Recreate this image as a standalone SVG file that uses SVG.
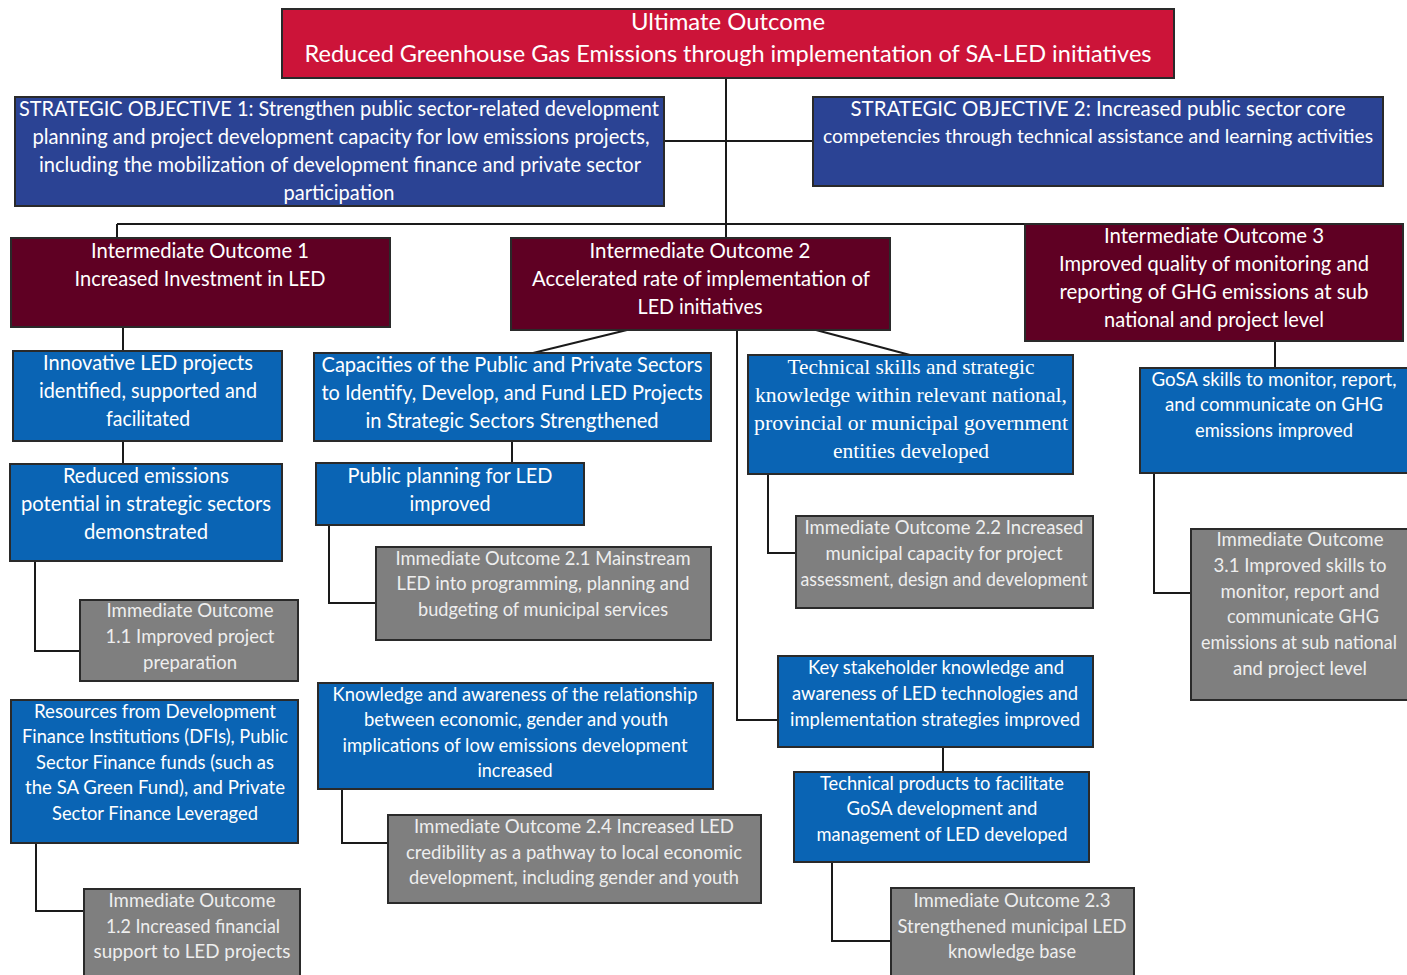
<svg xmlns="http://www.w3.org/2000/svg" width="1407" height="975" viewBox="0 0 1407 975">
<style>
rect{stroke:#2a2a2a;stroke-width:2}
rect.bg{fill:#ffffff;stroke:none}
.uo{fill:#CC1439}
.so{fill:#2B4394}
.io{fill:#5F0023}
.bl{fill:#0A64B4}
.gr{fill:#7F7F7F}
text{font-family:Lato,"Liberation Sans",sans-serif;fill:#ffffff;text-anchor:middle;dominant-baseline:central}
.f24{font-size:24px}
.f21{font-size:21px}
.f20{font-size:20px}
.f19{font-size:19px}
.g{fill:#EEEEEE}
.serif{font-family:"Liberation Serif",serif}
#connectors path{fill:none;stroke:#1a1a1a;stroke-width:2}
</style>
<rect class="bg" width="1407" height="975"/>
<g id="connectors">
<path d="M726,78 V238"/>
<path d="M664,141 H813"/>
<path d="M117,224 H1232"/>
<path d="M117,224 V238"/>
<path d="M123,327 V351"/>
<path d="M123,441 V464"/>
<path d="M35,561 V651 H80"/>
<path d="M627,330 L533,353"/>
<path d="M512,441 V463"/>
<path d="M329,525 V603 H376"/>
<path d="M816,330 L910,355"/>
<path d="M737,330 V720 H778"/>
<path d="M768,474 V553 H796"/>
<path d="M943,747 V772"/>
<path d="M832,862 V941 H891"/>
<path d="M1275,341 V368"/>
<path d="M1154,473 V593 H1191"/>
<path d="M36,843 V911 H84"/>
<path d="M342,789 V843 H388"/>
</g>
<g id="ultimate">
<rect class="uo" x="282" y="9" width="892" height="69"/>
<text class="f24" x="728" y="20" textLength="194" lengthAdjust="spacingAndGlyphs">Ultimate Outcome</text>
<text class="f24" x="728" y="52" textLength="847" lengthAdjust="spacingAndGlyphs">Reduced Greenhouse Gas Emissions through implementation of SA-LED initiatives</text>
</g>
<g id="so1">
<rect class="so" x="15" y="97" width="649" height="109"/>
<text class="f21" x="339" y="107" textLength="640" lengthAdjust="spacingAndGlyphs">STRATEGIC OBJECTIVE 1: Strengthen public sector-related development</text>
<text class="f21" x="341" y="135" textLength="617" lengthAdjust="spacingAndGlyphs">planning and project development capacity for low emissions projects,</text>
<text class="f21" x="340" y="163" textLength="602" lengthAdjust="spacingAndGlyphs">including the mobilization of development finance and private sector</text>
<text class="f21" x="339" y="191" textLength="111" lengthAdjust="spacingAndGlyphs">participation</text>
</g>
<g id="so2">
<rect class="so" x="813" y="97" width="570" height="89"/>
<text class="f21" x="1098" y="107" textLength="495" lengthAdjust="spacingAndGlyphs">STRATEGIC OBJECTIVE 2: Increased public sector core</text>
<text class="f20" x="1098" y="135" textLength="550" lengthAdjust="spacingAndGlyphs">competencies through technical assistance and learning activities</text>
</g>
<g id="io1">
<rect class="io" x="11" y="238" width="379" height="89"/>
<text class="f21" x="200" y="249" textLength="218" lengthAdjust="spacingAndGlyphs">Intermediate Outcome 1</text>
<text class="f21" x="200" y="277" textLength="251" lengthAdjust="spacingAndGlyphs">Increased Investment in LED</text>
</g>
<g id="io2">
<rect class="io" x="511" y="238" width="379" height="92"/>
<text class="f21" x="700" y="249" textLength="221" lengthAdjust="spacingAndGlyphs">Intermediate Outcome 2</text>
<text class="f21" x="701" y="277" textLength="338" lengthAdjust="spacingAndGlyphs">Accelerated rate of implementation of</text>
<text class="f21" x="700" y="305" textLength="125" lengthAdjust="spacingAndGlyphs">LED initiatives</text>
</g>
<g id="io3">
<rect class="io" x="1025" y="224" width="378" height="117"/>
<text class="f21" x="1214" y="234" textLength="220" lengthAdjust="spacingAndGlyphs">Intermediate Outcome 3</text>
<text class="f21" x="1214" y="262" textLength="310" lengthAdjust="spacingAndGlyphs">Improved quality of monitoring and</text>
<text class="f21" x="1214" y="290" textLength="309" lengthAdjust="spacingAndGlyphs">reporting of GHG emissions at sub</text>
<text class="f21" x="1214" y="318" textLength="220" lengthAdjust="spacingAndGlyphs">national and project level</text>
</g>
<g id="innovative">
<rect class="bl" x="13" y="351" width="269" height="90"/>
<text class="f21" x="148" y="361" textLength="210" lengthAdjust="spacingAndGlyphs">Innovative LED projects</text>
<text class="f21" x="148" y="389" textLength="218" lengthAdjust="spacingAndGlyphs">identified, supported and</text>
<text class="f21" x="148" y="417" textLength="84" lengthAdjust="spacingAndGlyphs">facilitated</text>
</g>
<g id="reduced">
<rect class="bl" x="10" y="464" width="272" height="97"/>
<text class="f21" x="146" y="474" textLength="166" lengthAdjust="spacingAndGlyphs">Reduced emissions</text>
<text class="f21" x="146" y="502" textLength="250" lengthAdjust="spacingAndGlyphs">potential in strategic sectors</text>
<text class="f21" x="146" y="530" textLength="124" lengthAdjust="spacingAndGlyphs">demonstrated</text>
</g>
<g id="im11">
<rect class="gr" x="80" y="600" width="218" height="81"/>
<text class="f19 g" x="190" y="609" textLength="167" lengthAdjust="spacingAndGlyphs">Immediate Outcome</text>
<text class="f19 g" x="190" y="635" textLength="169" lengthAdjust="spacingAndGlyphs">1.1 Improved project</text>
<text class="f19 g" x="190" y="661" textLength="94" lengthAdjust="spacingAndGlyphs">preparation</text>
</g>
<g id="resources">
<rect class="bl" x="11" y="700" width="287" height="143"/>
<text class="f19" x="155" y="710" textLength="242" lengthAdjust="spacingAndGlyphs">Resources from Development</text>
<text class="f19" x="155" y="735" textLength="266" lengthAdjust="spacingAndGlyphs">Finance Institutions (DFIs), Public</text>
<text class="f19" x="155" y="761" textLength="238" lengthAdjust="spacingAndGlyphs">Sector Finance funds (such as</text>
<text class="f19" x="155" y="786" textLength="260" lengthAdjust="spacingAndGlyphs">the SA Green Fund), and Private</text>
<text class="f19" x="155" y="812" textLength="206" lengthAdjust="spacingAndGlyphs">Sector Finance Leveraged</text>
</g>
<g id="im12">
<rect class="gr" x="84" y="889" width="216" height="95"/>
<text class="f19 g" x="192" y="899" textLength="167" lengthAdjust="spacingAndGlyphs">Immediate Outcome</text>
<text class="f19 g" x="193" y="925" textLength="174" lengthAdjust="spacingAndGlyphs">1.2 Increased financial</text>
<text class="f19 g" x="192" y="950" textLength="197" lengthAdjust="spacingAndGlyphs">support to LED projects</text>
</g>
<g id="capacities">
<rect class="bl" x="314" y="353" width="397" height="88"/>
<text class="f21" x="512" y="363" textLength="381" lengthAdjust="spacingAndGlyphs">Capacities of the Public and Private Sectors</text>
<text class="f21" x="512" y="391" textLength="381" lengthAdjust="spacingAndGlyphs">to Identify, Develop, and Fund LED Projects</text>
<text class="f21" x="512" y="419" textLength="293" lengthAdjust="spacingAndGlyphs">in Strategic Sectors Strengthened</text>
</g>
<g id="public-planning">
<rect class="bl" x="316" y="463" width="268" height="62"/>
<text class="f21" x="450" y="474" textLength="205" lengthAdjust="spacingAndGlyphs">Public planning for LED</text>
<text class="f21" x="450" y="502" textLength="81" lengthAdjust="spacingAndGlyphs">improved</text>
</g>
<g id="im21">
<rect class="gr" x="376" y="547" width="335" height="93"/>
<text class="f19 g" x="543" y="557" textLength="295" lengthAdjust="spacingAndGlyphs">Immediate Outcome 2.1 Mainstream</text>
<text class="f19 g" x="543" y="582" textLength="293" lengthAdjust="spacingAndGlyphs">LED into programming, planning and</text>
<text class="f19 g" x="543" y="608" textLength="250" lengthAdjust="spacingAndGlyphs">budgeting of municipal services</text>
</g>
<g id="knowledge">
<rect class="bl" x="318" y="683" width="395" height="106"/>
<text class="f19" x="515" y="693" textLength="365" lengthAdjust="spacingAndGlyphs">Knowledge and awareness of the relationship</text>
<text class="f19" x="516" y="718" textLength="304" lengthAdjust="spacingAndGlyphs">between economic, gender and youth</text>
<text class="f19" x="515" y="744" textLength="345" lengthAdjust="spacingAndGlyphs">implications of low emissions development</text>
<text class="f19" x="515" y="769" textLength="75" lengthAdjust="spacingAndGlyphs">increased</text>
</g>
<g id="im24">
<rect class="gr" x="388" y="815" width="373" height="88"/>
<text class="f19 g" x="574" y="825" textLength="320" lengthAdjust="spacingAndGlyphs">Immediate Outcome 2.4 Increased LED</text>
<text class="f19 g" x="574" y="851" textLength="336" lengthAdjust="spacingAndGlyphs">credibility as a pathway to local economic</text>
<text class="f19 g" x="574" y="876" textLength="330" lengthAdjust="spacingAndGlyphs">development, including gender and youth</text>
</g>
<g id="technical-skills">
<rect class="bl" x="748" y="355" width="325" height="119"/>
<text class="f21 serif" x="911" y="367" textLength="247" lengthAdjust="spacingAndGlyphs">Technical skills and strategic</text>
<text class="f21 serif" x="911" y="395" textLength="312" lengthAdjust="spacingAndGlyphs">knowledge within relevant national,</text>
<text class="f21 serif" x="911" y="423" textLength="314" lengthAdjust="spacingAndGlyphs">provincial or municipal government</text>
<text class="f21 serif" x="911" y="451" textLength="156" lengthAdjust="spacingAndGlyphs">entities developed</text>
</g>
<g id="im22">
<rect class="gr" x="796" y="516" width="297" height="92"/>
<text class="f19 g" x="944" y="526" textLength="279" lengthAdjust="spacingAndGlyphs">Immediate Outcome 2.2 Increased</text>
<text class="f19 g" x="944" y="552" textLength="237" lengthAdjust="spacingAndGlyphs">municipal capacity for project</text>
<text class="f19 g" x="944" y="578" textLength="287" lengthAdjust="spacingAndGlyphs">assessment, design and development</text>
</g>
<g id="key-stakeholder">
<rect class="bl" x="778" y="656" width="315" height="91"/>
<text class="f19" x="936" y="666" textLength="256" lengthAdjust="spacingAndGlyphs">Key stakeholder knowledge and</text>
<text class="f19" x="935" y="692" textLength="286" lengthAdjust="spacingAndGlyphs">awareness of LED technologies and</text>
<text class="f19" x="935" y="718" textLength="290" lengthAdjust="spacingAndGlyphs">implementation strategies improved</text>
</g>
<g id="technical-products">
<rect class="bl" x="794" y="772" width="295" height="90"/>
<text class="f19" x="942" y="782" textLength="244" lengthAdjust="spacingAndGlyphs">Technical products to facilitate</text>
<text class="f19" x="942" y="807" textLength="191" lengthAdjust="spacingAndGlyphs">GoSA development and</text>
<text class="f19" x="942" y="833" textLength="251" lengthAdjust="spacingAndGlyphs">management of LED developed</text>
</g>
<g id="im23">
<rect class="gr" x="891" y="888" width="243" height="96"/>
<text class="f19 g" x="1012" y="899" textLength="197" lengthAdjust="spacingAndGlyphs">Immediate Outcome 2.3</text>
<text class="f19 g" x="1012" y="925" textLength="229" lengthAdjust="spacingAndGlyphs">Strengthened municipal LED</text>
<text class="f19 g" x="1012" y="950" textLength="128" lengthAdjust="spacingAndGlyphs">knowledge base</text>
</g>
<g id="gosa">
<rect class="bl" x="1140" y="368" width="270" height="105"/>
<text class="f19" x="1274" y="378" textLength="245" lengthAdjust="spacingAndGlyphs">GoSA skills to monitor, report,</text>
<text class="f19" x="1274" y="403" textLength="218" lengthAdjust="spacingAndGlyphs">and communicate on GHG</text>
<text class="f19" x="1274" y="429" textLength="158" lengthAdjust="spacingAndGlyphs">emissions improved</text>
</g>
<g id="im31">
<rect class="gr" x="1191" y="529" width="219" height="171"/>
<text class="f19 g" x="1300" y="538" textLength="167" lengthAdjust="spacingAndGlyphs">Immediate Outcome</text>
<text class="f19 g" x="1300" y="564" textLength="173" lengthAdjust="spacingAndGlyphs">3.1 Improved skills to</text>
<text class="f19 g" x="1300" y="590" textLength="159" lengthAdjust="spacingAndGlyphs">monitor, report and</text>
<text class="f19 g" x="1303" y="615" textLength="152" lengthAdjust="spacingAndGlyphs">communicate GHG</text>
<text class="f19 g" x="1299" y="641" textLength="196" lengthAdjust="spacingAndGlyphs">emissions at sub national</text>
<text class="f19 g" x="1300" y="667" textLength="134" lengthAdjust="spacingAndGlyphs">and project level</text>
</g>
</svg>
